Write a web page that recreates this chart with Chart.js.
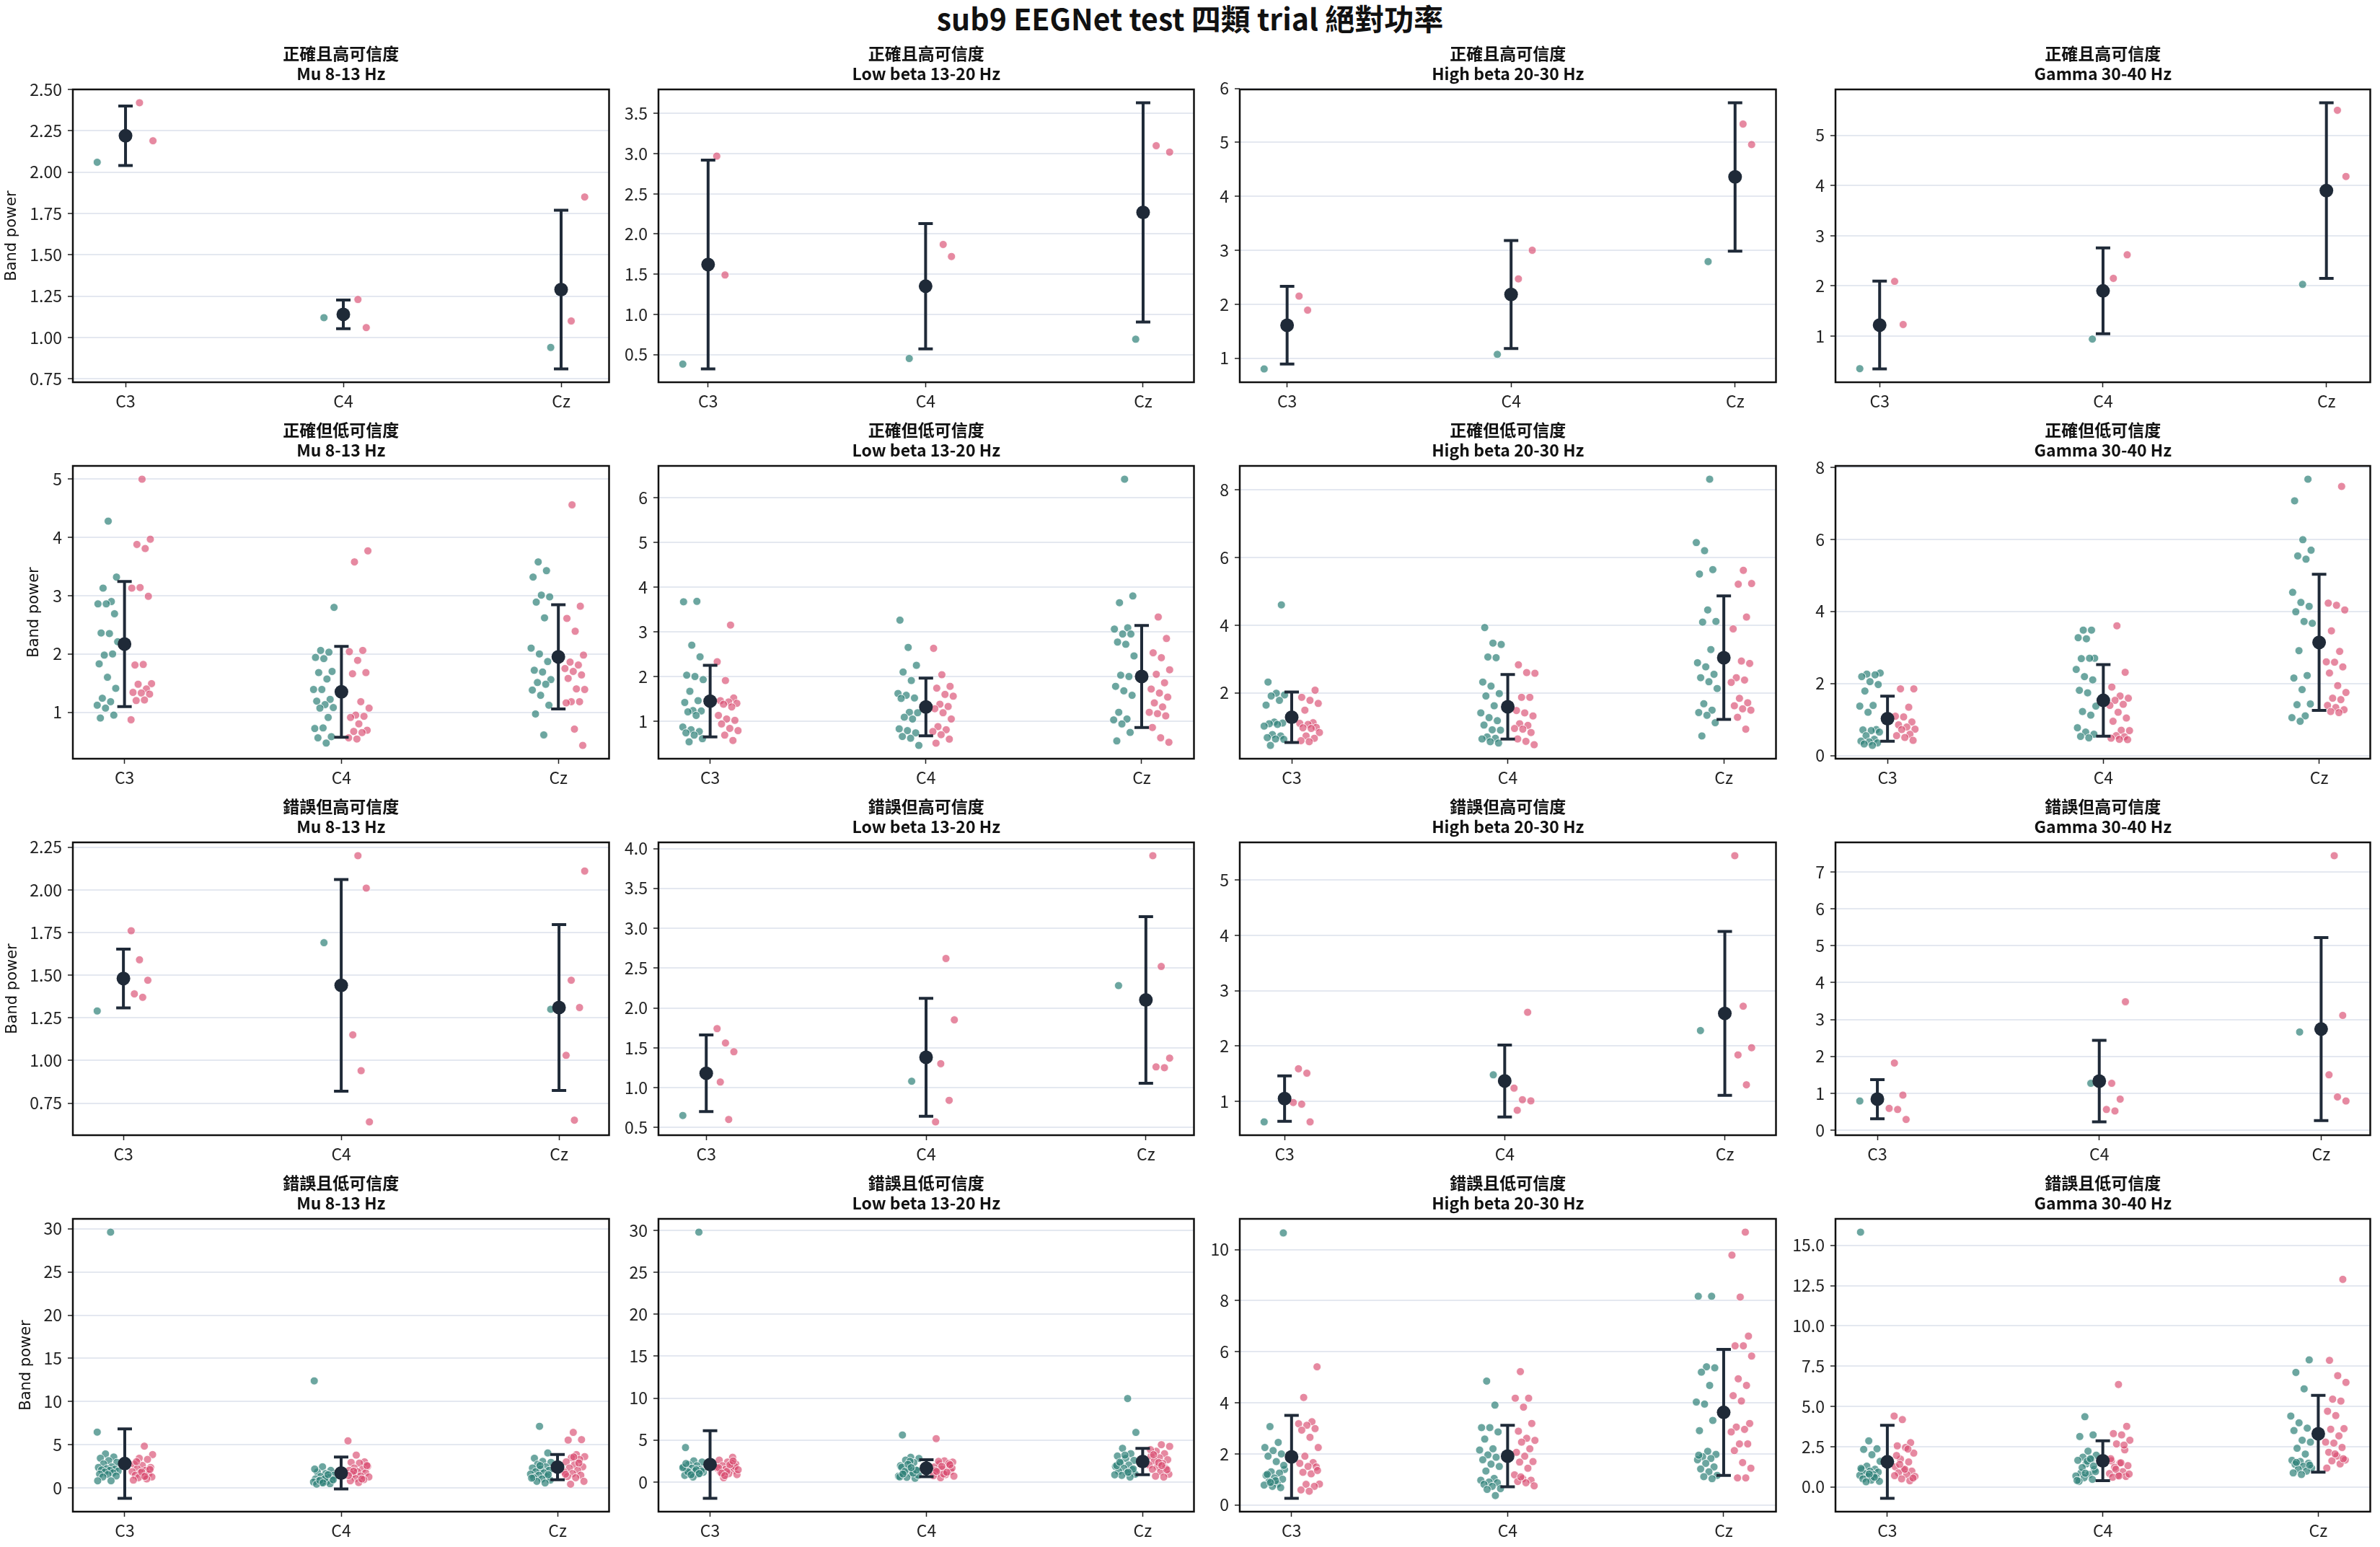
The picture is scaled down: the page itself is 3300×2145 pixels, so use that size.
<!DOCTYPE html>
<html>
<head>
<meta charset="utf-8">
<script src="https://cdn.jsdelivr.net/npm/chart.js@4/dist/chart.umd.min.js"></script>
<style>
  html, body { margin: 0; padding: 0; background: #fff; }
  #page { position: relative; width: 3300px; height: 2145px; overflow: hidden; background: #fff; }
  #title { position: absolute; left: 0; top: 4px; width: 3300px; text-align: center;
           font: bold 41px/41px "Noto Sans CJK TC", sans-serif; color: #111; }
  canvas { position: absolute; }
</style>
</head>
<body>
<div id="page"><div id="title">sub9 EEGNet test 四類 trial 絕對功率</div></div>
<script>
const channels = ['C3', 'C4', 'Cz'];
const rowTitles = ['正確且高可信度', '正確但低可信度', '錯誤但高可信度', '錯誤且低可信度'];
const bandTitles = ['Mu 8-13 Hz', 'Low beta 13-20 Hz', 'High beta 20-30 Hz', 'Gamma 30-40 Hz'];

// each set: [C3 values], [C4 values], [Cz values]; setA = teal, setB = pink

// 正確且高可信度
const chMuSetA = [[2.06], [1.12], [0.94]];
const chMuSetB = [[2.19, 2.42], [1.23, 1.06], [1.85, 1.10]];
const chMuMean = [2.22, 1.14, 1.29];
const chMuSd = [0.18, 0.087, 0.48];
const chMuTicks = [0.75, 1.0, 1.25, 1.5, 1.75, 2.0, 2.25, 2.5];

const chLoBetaSetA = [[0.38], [0.45], [0.69]];
const chLoBetaSetB = [[2.97, 1.49], [1.87, 1.72], [3.02, 3.10]];
const chLoBetaMean = [1.62, 1.35, 2.27];
const chLoBetaSd = [1.30, 0.78, 1.365];
const chLoBetaTicks = [0.5, 1.0, 1.5, 2.0, 2.5, 3.0, 3.5];

const chHiBetaSetA = [[0.80], [1.07], [2.79]];
const chHiBetaSetB = [[2.15, 1.89], [3.00, 2.47], [5.34, 4.96]];
const chHiBetaMean = [1.61, 2.18, 4.36];
const chHiBetaSd = [0.72, 1.0, 1.375];
const chHiBetaTicks = [1, 2, 3, 4, 5, 6];

const chGammaSetA = [[0.35], [0.94], [2.03]];
const chGammaSetB = [[2.09, 1.23], [2.62, 2.15], [5.50, 4.18]];
const chGammaMean = [1.22, 1.90, 3.90];
const chGammaSd = [0.875, 0.855, 1.75];
const chGammaTicks = [1, 2, 3, 4, 5];

// 正確但低可信度
const clMuSetA = [
  [4.28, 3.32, 3.13, 2.90, 2.86, 2.86, 2.69, 2.36, 2.35, 2.21, 1.98, 2.00, 1.83, 1.60, 1.41, 1.24, 1.18, 1.12, 1.07, 0.95, 0.90],
  [2.80, 2.06, 2.03, 1.94, 1.92, 1.70, 1.68, 1.57, 1.39, 1.39, 1.22, 1.19, 1.13, 1.08, 1.07, 0.91, 0.72, 0.73, 0.58, 0.56, 0.47],
  [3.58, 3.43, 3.32, 3.01, 2.98, 2.89, 2.62, 2.10, 2.00, 1.87, 1.72, 1.69, 1.56, 1.51, 1.48, 1.38, 1.29, 1.12, 0.97, 0.61]];
const clMuSetB = [
  [5.00, 3.97, 3.88, 3.81, 3.13, 3.14, 2.99, 1.81, 1.82, 1.49, 1.48, 1.40, 1.34, 1.33, 1.31, 1.20, 1.21, 0.87],
  [3.77, 3.58, 2.06, 2.04, 1.89, 1.68, 1.66, 1.18, 1.07, 0.95, 0.93, 0.91, 0.80, 0.69, 0.67, 0.65, 0.56, 0.54],
  [4.56, 2.82, 2.61, 2.39, 1.98, 1.86, 1.81, 1.75, 1.70, 1.64, 1.58, 1.40, 1.39, 1.18, 1.18, 1.16, 0.71, 0.43]];
const clMuMean = [2.17, 1.35, 1.95];
const clMuSd = [1.075, 0.78, 0.895];
const clMuTicks = [1, 2, 3, 4, 5];

const clLoBetaSetA = [
  [3.68, 3.67, 2.70, 2.44, 2.03, 2.00, 1.93, 1.67, 1.46, 1.42, 1.24, 1.23, 1.21, 1.13, 0.87, 0.81, 0.77, 0.74, 0.69, 0.61, 0.54],
  [3.26, 2.65, 2.25, 2.10, 1.91, 1.62, 1.58, 1.52, 1.51, 1.20, 1.19, 1.09, 1.05, 0.83, 0.79, 0.74, 0.66, 0.62, 0.46],
  [6.41, 3.80, 3.65, 3.09, 3.06, 2.95, 2.95, 2.77, 2.72, 2.46, 2.03, 2.00, 1.78, 1.68, 1.58, 1.20, 1.05, 1.03, 0.94, 0.75, 0.56]];
const clLoBetaSetB = [
  [3.15, 2.33, 1.91, 1.52, 1.46, 1.43, 1.40, 1.38, 1.32, 1.13, 1.05, 1.02, 0.94, 0.84, 0.79, 0.69, 0.57],
  [2.63, 2.04, 1.78, 1.74, 1.60, 1.56, 1.38, 1.33, 1.28, 1.19, 1.05, 0.88, 0.81, 0.77, 0.70, 0.60, 0.51],
  [3.33, 2.85, 2.53, 2.42, 2.15, 2.05, 1.86, 1.72, 1.63, 1.54, 1.41, 1.32, 1.20, 1.17, 1.12, 0.86, 0.63, 0.53]];
const clLoBetaMean = [1.45, 1.32, 2.00];
const clLoBetaSd = [0.80, 0.645, 1.14];
const clLoBetaTicks = [1, 2, 3, 4, 5, 6];

const clHiBetaSetA = [
  [4.60, 2.32, 1.99, 1.94, 1.91, 1.78, 1.64, 1.14, 1.11, 1.09, 1.07, 1.02, 0.77, 0.73, 0.68, 0.64, 0.63, 0.45],
  [3.93, 3.47, 3.43, 3.06, 3.04, 2.32, 2.20, 1.98, 1.91, 1.62, 1.41, 1.27, 1.18, 1.05, 0.91, 0.90, 0.70, 0.66, 0.64, 0.56, 0.52],
  [8.31, 6.44, 6.20, 5.64, 5.51, 4.45, 4.11, 4.09, 3.28, 2.89, 2.77, 2.55, 2.45, 2.33, 2.13, 1.68, 1.49, 1.42, 1.34, 1.12, 0.73]];
const clHiBetaSetB = [
  [2.08, 1.87, 1.78, 1.69, 1.49, 1.12, 1.10, 1.07, 0.98, 0.97, 0.95, 0.83, 0.73, 0.66, 0.59, 0.56],
  [2.83, 2.60, 2.58, 1.87, 1.87, 1.48, 1.41, 1.32, 1.09, 1.04, 0.95, 0.93, 0.83, 0.64, 0.57, 0.47],
  [5.62, 5.23, 5.21, 4.24, 3.89, 2.94, 2.87, 2.45, 2.38, 2.31, 1.84, 1.71, 1.62, 1.53, 1.49, 1.28, 0.93]];
const clHiBetaMean = [1.28, 1.59, 3.04];
const clHiBetaSd = [0.745, 0.955, 1.825];
const clHiBetaTicks = [2, 4, 6, 8];

const clGammaSetA = [
  [2.29, 2.26, 2.24, 2.19, 2.05, 1.97, 1.79, 1.39, 1.37, 1.20, 0.72, 0.71, 0.69, 0.65, 0.55, 0.45, 0.40, 0.38, 0.35, 0.32, 0.28],
  [3.48, 3.48, 3.27, 3.24, 2.70, 2.69, 2.70, 2.39, 2.19, 2.10, 1.81, 1.74, 1.37, 1.22, 1.12, 0.77, 0.65, 0.59, 0.53, 0.49],
  [7.67, 7.07, 5.99, 5.70, 5.54, 5.45, 4.53, 4.25, 4.14, 3.99, 3.72, 3.67, 2.91, 2.22, 2.15, 1.83, 1.43, 1.41, 1.10, 1.05, 0.95]];
const clGammaSetB = [
  [1.85, 1.85, 1.34, 1.09, 1.07, 0.93, 0.85, 0.79, 0.73, 0.72, 0.59, 0.55, 0.50, 0.42],
  [3.60, 2.31, 1.90, 1.65, 1.59, 1.53, 1.42, 1.39, 1.20, 1.04, 0.95, 0.70, 0.69, 0.55, 0.52, 0.48, 0.45, 0.44],
  [7.47, 4.23, 4.17, 4.04, 3.46, 2.89, 2.60, 2.59, 2.46, 2.29, 1.94, 1.75, 1.59, 1.55, 1.39, 1.33, 1.27, 1.22, 1.19]];
const clGammaMean = [1.02, 1.53, 3.14];
const clGammaSd = [0.625, 0.995, 1.89];
const clGammaTicks = [0, 2, 4, 6, 8];

// 錯誤但高可信度
const whMuSetA = [[1.29], [1.69], [1.30]];
const whMuSetB = [[1.76, 1.59, 1.47, 1.39, 1.37], [2.20, 2.01, 1.15, 0.94, 0.64], [2.11, 1.47, 1.31, 1.03, 0.65]];
const whMuMean = [1.48, 1.44, 1.31];
const whMuSd = [0.172, 0.62, 0.486];
const whMuTicks = [0.75, 1.0, 1.25, 1.5, 1.75, 2.0, 2.25];

const whLoBetaSetA = [[0.65], [1.08], [2.28]];
const whLoBetaSetB = [[1.74, 1.56, 1.45, 1.07, 0.60], [2.62, 1.85, 1.30, 0.84, 0.57], [3.91, 2.52, 1.37, 1.26, 1.25]];
const whLoBetaMean = [1.18, 1.38, 2.10];
const whLoBetaSd = [0.48, 0.74, 1.045];
const whLoBetaTicks = [0.5, 1.0, 1.5, 2.0, 2.5, 3.0, 3.5, 4.0];

const whHiBetaSetA = [[0.63], [1.48], [2.28]];
const whHiBetaSetB = [[1.59, 1.51, 0.98, 0.95, 0.63], [2.61, 1.24, 1.03, 1.01, 0.84], [5.44, 2.72, 1.97, 1.84, 1.30]];
const whHiBetaMean = [1.05, 1.37, 2.59];
const whHiBetaSd = [0.41, 0.65, 1.48];
const whHiBetaTicks = [1, 2, 3, 4, 5];

const whGammaSetA = [[0.79], [1.27], [2.66]];
const whGammaSetB = [[1.82, 0.95, 0.59, 0.56, 0.29], [3.48, 1.27, 0.84, 0.56, 0.52], [7.44, 3.11, 1.50, 0.90, 0.79]];
const whGammaMean = [0.84, 1.33, 2.74];
const whGammaSd = [0.53, 1.106, 2.48];
const whGammaTicks = [0, 1, 2, 3, 4, 5, 6, 7];

// 錯誤且低可信度
const wlMuSetA = [
  [29.6, 6.47, 3.95, 3.59, 3.45, 3.17, 2.97, 2.80, 2.46, 2.38, 2.24, 2.18, 2.10, 2.04, 1.96, 1.85, 1.76, 1.62, 1.57, 1.40, 1.29, 0.84, 0.84],
  [12.4, 2.46, 2.04, 1.85, 1.68, 1.48, 1.34, 1.20, 1.06, 0.98, 0.92, 0.84, 0.78, 0.70, 0.64, 0.50, 0.45, 1.10, 0.95, 0.88, 1.55, 2.20, 0.60],
  [7.14, 4.06, 3.45, 3.08, 2.97, 2.75, 2.46, 2.32, 2.18, 2.04, 1.90, 1.76, 1.62, 1.48, 1.34, 1.20, 1.06, 0.92, 0.78, 0.59, 1.15, 2.60, 1.55]];
const wlMuSetB = [
  [4.85, 3.87, 3.45, 3.31, 2.75, 2.61, 2.38, 2.24, 2.04, 1.90, 1.76, 1.62, 1.48, 1.40, 1.29, 1.20, 1.06, 0.92, 1.85, 2.15, 3.05, 1.35],
  [5.46, 3.81, 3.03, 2.97, 2.89, 2.52, 2.32, 2.18, 2.04, 1.90, 1.76, 1.57, 1.40, 1.29, 1.12, 0.98, 0.84, 0.64, 2.60, 1.95, 1.05, 1.45],
  [6.44, 5.60, 5.55, 3.87, 3.64, 3.50, 3.31, 3.03, 2.69, 2.46, 2.32, 2.04, 1.85, 1.68, 1.48, 1.34, 1.20, 0.78, 0.45, 2.90, 1.60, 3.60]];
const wlMuMean = [2.83, 1.74, 2.43];
const wlMuSd = [4.02, 1.85, 1.46];
const wlMuTicks = [0, 5, 10, 15, 20, 25, 30];

const wlLoBetaSetA = [
  [29.8, 4.10, 2.51, 2.37, 2.08, 1.93, 1.79, 1.64, 1.50, 1.36, 1.27, 1.15, 1.07, 0.92, 0.78, 0.58, 1.30, 1.20, 1.45, 1.70, 0.85, 1.00, 2.20],
  [5.60, 2.94, 2.80, 2.60, 2.31, 1.93, 1.56, 1.36, 1.15, 0.92, 0.69, 0.55, 0.43, 1.75, 2.45, 0.80, 1.25, 1.05, 0.60, 2.10, 1.40, 0.95, 1.70],
  [9.95, 5.91, 4.01, 3.37, 3.09, 2.80, 2.57, 2.22, 2.02, 1.85, 1.64, 1.44, 1.27, 1.07, 0.92, 0.78, 0.58, 1.95, 3.20, 1.55, 2.35, 1.15, 0.85]];
const wlLoBetaSetB = [
  [2.94, 2.60, 2.37, 2.13, 1.93, 1.79, 1.64, 1.50, 1.36, 1.15, 0.98, 0.87, 0.49, 2.25, 1.70, 1.25, 1.85, 1.05, 2.05, 1.45, 0.75, 2.50],
  [5.16, 2.51, 2.37, 2.13, 1.93, 1.79, 1.50, 1.27, 1.07, 0.87, 0.69, 0.49, 2.20, 1.35, 0.95, 1.65, 2.45, 1.15, 0.75, 1.85, 2.05, 1.25],
  [4.44, 4.24, 3.66, 3.37, 3.09, 2.88, 2.65, 2.51, 2.22, 2.02, 1.79, 1.64, 1.50, 1.21, 0.92, 0.69, 0.58, 3.85, 2.30, 1.45, 3.25, 1.95]];
const wlLoBetaMean = [2.075, 1.64, 2.44];
const wlLoBetaSd = [4.035, 1.01, 1.57];
const wlLoBetaTicks = [0, 5, 10, 15, 20, 25, 30];

const wlHiBetaSetA = [
  [10.65, 3.07, 2.45, 2.25, 2.13, 2.00, 1.91, 1.70, 1.39, 1.30, 1.25, 1.16, 1.06, 1.01, 0.92, 0.82, 0.78, 0.73, 0.68, 1.20, 0.95, 1.55, 0.88],
  [4.85, 3.91, 3.03, 3.03, 2.86, 2.58, 2.20, 2.15, 1.96, 1.87, 1.77, 1.60, 1.51, 1.33, 1.04, 0.97, 0.90, 0.87, 0.81, 0.73, 0.64, 0.61, 0.37],
  [8.17, 8.17, 5.41, 5.37, 5.20, 4.68, 4.03, 3.95, 3.31, 2.91, 2.10, 1.98, 1.89, 1.82, 1.77, 1.63, 1.49, 1.41, 1.30, 1.16, 1.11, 1.03, 1.95]];
const wlHiBetaSetB = [
  [5.41, 4.21, 3.26, 3.18, 3.12, 2.99, 2.93, 2.65, 2.25, 1.91, 1.66, 1.63, 1.51, 1.49, 1.28, 1.22, 0.82, 0.81, 0.73, 0.59, 0.54, 1.35],
  [5.22, 4.18, 4.18, 3.83, 3.19, 2.89, 2.61, 2.53, 2.46, 2.20, 2.06, 1.91, 1.70, 1.68, 1.44, 1.18, 1.03, 0.97, 0.92, 0.87, 0.75, 1.10],
  [10.68, 9.78, 8.14, 6.61, 6.23, 6.23, 5.83, 4.94, 4.68, 4.28, 4.07, 3.19, 3.05, 2.96, 2.86, 2.39, 2.39, 2.13, 1.66, 1.44, 1.06, 1.06]];
const wlHiBetaMean = [1.885, 1.915, 3.625];
const wlHiBetaSd = [1.625, 1.205, 2.465];
const wlHiBetaTicks = [0, 2, 4, 6, 8, 10];

const wlGammaSetA = [
  [15.82, 2.86, 2.37, 2.33, 2.00, 1.59, 1.29, 1.10, 1.07, 0.98, 0.92, 0.83, 0.77, 0.72, 0.65, 0.57, 0.50, 0.42, 0.35, 0.32, 0.60, 1.15, 0.80],
  [4.36, 3.23, 3.13, 2.22, 1.97, 1.85, 1.70, 1.65, 1.43, 1.07, 0.87, 0.77, 0.68, 0.57, 0.47, 0.35, 1.60, 0.95, 1.20, 1.75, 0.40, 0.85, 1.30],
  [7.89, 7.11, 6.09, 4.40, 3.98, 3.65, 3.50, 2.90, 2.78, 2.40, 2.04, 1.65, 1.58, 1.47, 1.40, 1.28, 1.17, 1.10, 0.98, 0.87, 0.77, 1.35, 1.52]];
const wlGammaSetB = [
  [4.40, 4.18, 2.75, 2.55, 2.45, 2.10, 1.73, 1.55, 1.25, 1.07, 0.98, 0.87, 0.77, 0.65, 0.50, 0.38, 1.95, 1.10, 0.55, 1.40, 2.35, 0.70],
  [6.36, 3.76, 3.31, 3.23, 2.90, 2.67, 2.30, 1.62, 1.47, 1.32, 1.22, 0.95, 0.83, 0.72, 0.65, 0.60, 1.50, 0.80, 1.10, 2.60, 1.75, 0.68],
  [12.89, 7.86, 6.91, 6.49, 5.45, 5.33, 4.70, 4.43, 3.62, 3.58, 3.17, 2.78, 2.72, 2.45, 2.15, 1.92, 1.67, 1.62, 1.43, 1.17, 2.05, 1.75]];
const wlGammaMean = [1.56, 1.625, 3.30];
const wlGammaSd = [2.27, 1.235, 2.38];
const wlGammaTicks = [0, 2.5, 5, 7.5, 10, 12.5, 15];

// panel table, row by row
const panels = [
  {a: chMuSetA, b: chMuSetB, mean: chMuMean, sd: chMuSd, ticks: chMuTicks, dec: 2},
  {a: chLoBetaSetA, b: chLoBetaSetB, mean: chLoBetaMean, sd: chLoBetaSd, ticks: chLoBetaTicks, dec: 1},
  {a: chHiBetaSetA, b: chHiBetaSetB, mean: chHiBetaMean, sd: chHiBetaSd, ticks: chHiBetaTicks, dec: 0},
  {a: chGammaSetA, b: chGammaSetB, mean: chGammaMean, sd: chGammaSd, ticks: chGammaTicks, dec: 0},
  {a: clMuSetA, b: clMuSetB, mean: clMuMean, sd: clMuSd, ticks: clMuTicks, dec: 0},
  {a: clLoBetaSetA, b: clLoBetaSetB, mean: clLoBetaMean, sd: clLoBetaSd, ticks: clLoBetaTicks, dec: 0},
  {a: clHiBetaSetA, b: clHiBetaSetB, mean: clHiBetaMean, sd: clHiBetaSd, ticks: clHiBetaTicks, dec: 0},
  {a: clGammaSetA, b: clGammaSetB, mean: clGammaMean, sd: clGammaSd, ticks: clGammaTicks, dec: 0},
  {a: whMuSetA, b: whMuSetB, mean: whMuMean, sd: whMuSd, ticks: whMuTicks, dec: 2},
  {a: whLoBetaSetA, b: whLoBetaSetB, mean: whLoBetaMean, sd: whLoBetaSd, ticks: whLoBetaTicks, dec: 1},
  {a: whHiBetaSetA, b: whHiBetaSetB, mean: whHiBetaMean, sd: whHiBetaSd, ticks: whHiBetaTicks, dec: 0},
  {a: whGammaSetA, b: whGammaSetB, mean: whGammaMean, sd: whGammaSd, ticks: whGammaTicks, dec: 0},
  {a: wlMuSetA, b: wlMuSetB, mean: wlMuMean, sd: wlMuSd, ticks: wlMuTicks, dec: 0},
  {a: wlLoBetaSetA, b: wlLoBetaSetB, mean: wlLoBetaMean, sd: wlLoBetaSd, ticks: wlLoBetaTicks, dec: 0},
  {a: wlHiBetaSetA, b: wlHiBetaSetB, mean: wlHiBetaMean, sd: wlHiBetaSd, ticks: wlHiBetaTicks, dec: 0},
  {a: wlGammaSetA, b: wlGammaSetB, mean: wlGammaMean, sd: wlGammaSd, ticks: wlGammaTicks, dec: 1}
];

// layout of the plot areas on the page
const plotLeft = [101, 913, 1719, 2545];
const plotWidth = [749, 748, 749, 747];
const plotTop = [124, 646, 1168, 1690];
const plotHeight = 406;
const firstColAxis = [97, 66, 96, 77];   // y axis width incl. "Band power"
const otherAxis = 60;
const titleH = 68, xAxisH = 45, padRight = 4;

const cjk = 'Noto Sans CJK TC';
const teal = 'rgba(46, 128, 119, 0.7)';
const pink = 'rgba(217, 74, 110, 0.65)';
const ink = '#1f2a38';

// fixed (non random) horizontal spread of strip points
function spread(j, seed) {
  const f = (j * 0.381966 + seed * 0.1371) % 1;
  return f * 2 - 1;
}

function stripPoints(groups, side, seed) {
  const pts = [];
  groups.forEach((vals, i) => {
    vals.forEach((v, j) => {
      pts.push({x: i + side * 0.08 + 0.05 * spread(j, seed + i * 3), y: v});
    });
  });
  return pts;
}

function padRange(lo, hi) {
  const m = (hi - lo) * 0.05;
  return [lo - m, hi + m];
}

//frame round the plot area
const frame = {
  id: 'frame',
  afterDraw(chart) {
    const {ctx, chartArea: a} = chart;
    ctx.save();
    ctx.strokeStyle = '#111';
    ctx.lineWidth = 2.5;
    ctx.strokeRect(a.left, a.top, a.right - a.left, a.bottom - a.top);
    ctx.restore();
  }
};

// mean +- sd bars, drawn just before the mean markers
const errorBars = {
  id: 'errorBars',
  beforeDatasetDraw(chart, args) {
    const ds = chart.data.datasets[args.index];
    if (!ds.sd) return;
    const {ctx, scales: {x, y}} = chart;
    ctx.save();
    ctx.strokeStyle = ink;
    ctx.lineWidth = 4;
    ds.data.forEach((p, i) => {
      const px = x.getPixelForValue(p.x);
      const top = y.getPixelForValue(p.y + ds.sd[i]);
      const bot = y.getPixelForValue(p.y - ds.sd[i]);
      ctx.beginPath();
      ctx.moveTo(px, top); ctx.lineTo(px, bot);
      ctx.moveTo(px - 10, top); ctx.lineTo(px + 10, top);
      ctx.moveTo(px - 10, bot); ctx.lineTo(px + 10, bot);
      ctx.stroke();
    });
    ctx.restore();
  }
};

const page = document.getElementById('page');

panels.forEach((p, k) => {
  const r = Math.floor(k / 4), c = k % 4;
  const axisW = c === 0 ? firstColAxis[r] : otherAxis;

  const ptsA = stripPoints(p.a, -1, k);
  const ptsB = stripPoints(p.b, 1, k + 7);
  const ys = ptsA.concat(ptsB).map(q => q.y);
  p.mean.forEach((m, i) => { ys.push(m - p.sd[i], m + p.sd[i]); });
  const [yMin, yMax] = padRange(Math.min(...ys), Math.max(...ys));
  const xs = ptsA.concat(ptsB).map(q => q.x).concat([0, 2]);
  const [xMin, xMax] = padRange(Math.min(...xs), Math.max(...xs));
  const eps = (yMax - yMin) * 0.01;

  const cv = document.createElement('canvas');
  cv.width = axisW + plotWidth[c] + padRight;
  cv.height = titleH + plotHeight + xAxisH;
  cv.style.left = (plotLeft[c] - axisW) + 'px';
  cv.style.top = (plotTop[r] - titleH) + 'px';
  page.appendChild(cv);

  new Chart(cv.getContext('2d'), {
    type: 'scatter',
    data: {
      datasets: [
        {data: ptsA, pointBackgroundColor: teal, pointBorderColor: 'rgba(255,255,255,0.85)',
         pointBorderWidth: 1, pointRadius: 5.5, order: 2},
        {data: ptsB, pointBackgroundColor: pink, pointBorderColor: 'rgba(255,255,255,0.85)',
         pointBorderWidth: 1, pointRadius: 5.5, order: 1},
        {data: p.mean.map((m, i) => ({x: i, y: m})), sd: p.sd,
         pointBackgroundColor: ink, pointBorderColor: ink, pointBorderWidth: 0, pointRadius: 9.5, order: 0}
      ]
    },
    options: {
      responsive: false,
      animation: false,
      devicePixelRatio: 1,
      layout: {padding: {left: 0, right: padRight, top: 0, bottom: 0}},
      plugins: {
        legend: {display: false},
        tooltip: {enabled: false},
        title: {
          display: true,
          text: [rowTitles[r], bandTitles[c]],
          fullSize: false,
          color: '#111',
          font: {family: cjk, size: 23, weight: 'bold', lineHeight: 28 / 23},
          padding: {top: 4, bottom: 8}
        }
      },
      scales: {
        x: {
          type: 'linear',
          min: xMin,
          max: xMax,
          afterBuildTicks: s => { s.ticks = [0, 1, 2].map(v => ({value: v})); },
          afterFit: s => { s.height = xAxisH; },
          ticks: {callback: v => channels[v], font: {family: cjk, size: 23}, color: '#222', padding: 5, maxRotation: 0},
          grid: {drawOnChartArea: false, drawTicks: true, tickLength: 7, tickColor: '#222', tickWidth: 1.5},
          border: {display: false}
        },
        y: {
          min: yMin,
          max: yMax,
          afterBuildTicks: s => {
            s.ticks = p.ticks.filter(v => v >= yMin - eps && v <= yMax + eps).map(v => ({value: v}));
          },
          afterFit: s => { s.width = axisW; },
          ticks: {callback: v => v.toFixed(p.dec), font: {family: cjk, size: 23}, color: '#222', padding: 8},
          grid: {color: '#e4e8f0', lineWidth: 2, tickLength: 7, tickColor: '#222', tickWidth: 1.5},
          border: {display: false},
          title: {display: c === 0, text: 'Band power', color: '#111',
                  font: {family: 'DejaVu Sans', size: 21}, padding: 0}
        }
      }
    },
    plugins: [errorBars, frame]
  });
});
</script>
</body>
</html>
